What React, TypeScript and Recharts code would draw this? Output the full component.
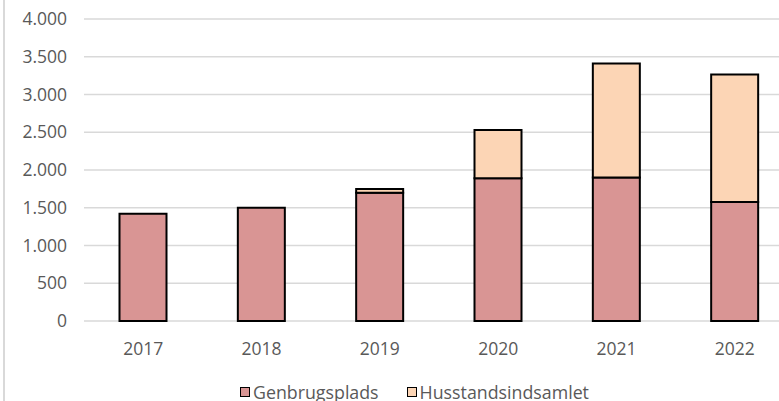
import React from "react";
import { BarChart, Bar, XAxis, YAxis, CartesianGrid } from "recharts";

const years = ["2017", "2018", "2019", "2020", "2021", "2022"];
const genbrugsplads = [1420, 1500, 1700, 1890, 1900, 1575];
const husstandsindsamlet = [0, 0, 50, 640, 1510, 1690];
const yTicks = [0, 500, 1000, 1500, 2000, 2500, 3000, 3500, 4000];

const data = years.map((y, i) => ({
  year: y,
  Genbrugsplads: genbrugsplads[i],
  Husstandsindsamlet: husstandsindsamlet[i],
}));

const FONT = "'Open Sans', sans-serif";
const TXT = "#595959";

const fmt = (v: number) => v.toLocaleString("da-DK");

const legendItems = [
  { name: "Genbrugsplads", color: "#D99594" },
  { name: "Husstandsindsamlet", color: "#FCD5B5" },
];

export default function App() {
  return (
    <div style={{ position: "fixed", left: 0, top: 0, width: 779, height: 401, overflow: "hidden", background: "#fff" }}>
      <div style={{ position: "absolute", left: 3, top: 0, width: 1.5, height: 401, background: "#D9D9D9" }} />
      <BarChart
        width={820}
        height={401}
        data={data}
        margin={{ top: 19, right: 26, bottom: 50, left: 0 }}
        barCategoryGap="30%"
      >
        <CartesianGrid vertical={false} stroke="#D9D9D9" strokeWidth={1.5} />
        <XAxis
          dataKey="year"
          height={30}
          tickLine={false}
          axisLine={false}
          tickSize={0}
          tickMargin={22}
          tick={{ fill: TXT, fontSize: 17.5, fontFamily: FONT }}
        />
        <YAxis
          width={84}
          domain={[0, 4000]}
          ticks={yTicks}
          tickFormatter={fmt}
          tickLine={false}
          axisLine={false}
          tickSize={0}
          tickMargin={17}
          tick={{ fill: TXT, fontSize: 17.5, fontFamily: FONT }}
        />
        <Bar dataKey="Genbrugsplads" stackId="a" fill="#D99594" stroke="#000" strokeWidth={2} isAnimationActive={false} />
        <Bar dataKey="Husstandsindsamlet" stackId="a" fill="#FCD5B5" stroke="#000" strokeWidth={2} isAnimationActive={false} />
      </BarChart>
      <div
        style={{
          position: "absolute",
          top: 381,
          left: 240,
          display: "flex",
          fontFamily: FONT,
          fontSize: 17.8,
          lineHeight: "22px",
          color: TXT,
          whiteSpace: "nowrap",
        }}
      >
        {legendItems.map((it, i) => (
          <div key={it.name} style={{ display: "flex", alignItems: "center", marginLeft: i ? 28 : 0 }}>
            <div style={{ width: 8, height: 8, background: it.color, border: "1.5px solid #000", marginRight: 3 }} />
            <span>{it.name}</span>
          </div>
        ))}
      </div>
    </div>
  );
}
